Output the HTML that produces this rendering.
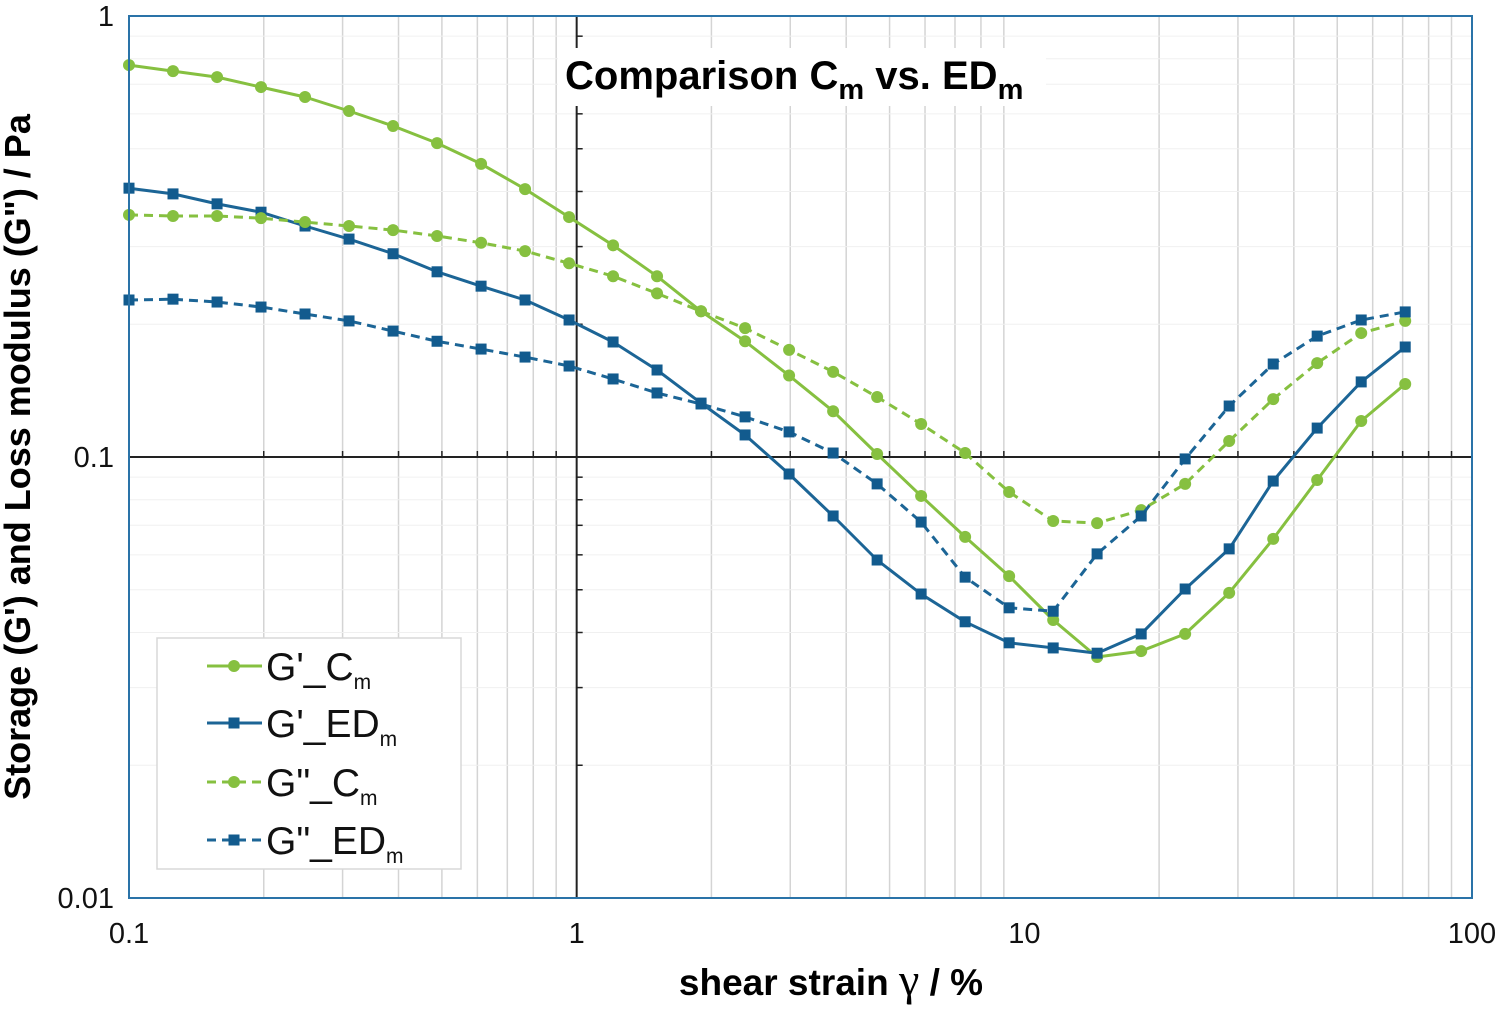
<!DOCTYPE html>
<html><head><meta charset="utf-8">
<style>
html,body{margin:0;padding:0;background:#fff;}
svg{display:block;font-family:"Liberation Sans",Arial,sans-serif;}
</style></head>
<body>
<svg id="chart" width="1500" height="1017" viewBox="0 0 1500 1017" xmlns="http://www.w3.org/2000/svg">
<g id="grid"></g>
<g id="axes"></g>
<g id="series"></g>
<rect x="129" y="16" width="1343" height="882" fill="none" stroke="#2a73a8" stroke-width="2"/>
<rect x="558" y="48" width="488" height="58" fill="#fff"/>
<text x="565" y="89" font-size="40" font-weight="bold" fill="#000">Comparison C<tspan font-size="29" dy="10">m</tspan><tspan dy="-10"> vs. ED</tspan><tspan font-size="29" dy="10">m</tspan></text>
<g id="legend">
<rect x="157" y="638" width="304" height="231" fill="#fff" stroke="#d8d8d8" stroke-width="1.5"/>
</g>
<text x="831" y="995" font-size="37" font-weight="bold" text-anchor="middle">shear strain <tspan font-family="Liberation Serif,serif" font-weight="normal" font-size="46">γ</tspan> / %</text>
<text transform="translate(30,457) rotate(-90)" font-size="36" font-weight="bold" text-anchor="middle">Storage (G') and Loss modulus (G") / Pa</text>
</svg>
<script>
const strain=[0.1,0.1254,0.1573,0.1972,0.2473,0.3101,0.3889,0.4877,0.6116,0.7669,0.9617,1.206,1.512,1.896,2.378,2.982,3.740,4.690,5.881,7.375,9.248,11.60,14.54,18.24,22.87,28.68,35.97,45.10,56.56,70.93];
const gpCm=[0.774,0.750,0.727,0.690,0.655,0.609,0.563,0.515,0.462,0.405,0.350,0.302,0.257,0.214,0.183,0.153,0.127,0.1016,0.0816,0.0659,0.0537,0.0427,0.0352,0.0363,0.0397,0.0492,0.0652,0.0887,0.1207,0.1464];
const gpEDm=[0.407,0.395,0.375,0.359,0.334,0.312,0.289,0.263,0.244,0.227,0.2045,0.1823,0.1575,0.1325,0.1122,0.0915,0.0735,0.0584,0.0489,0.0423,0.0379,0.0369,0.0359,0.0397,0.0502,0.0619,0.0882,0.1163,0.148,0.1776];
const gppCm=[0.354,0.352,0.352,0.348,0.341,0.334,0.327,0.317,0.306,0.293,0.275,0.257,0.235,0.214,0.196,0.175,0.156,0.1368,0.1188,0.1021,0.0833,0.0716,0.0708,0.0758,0.0869,0.1087,0.1353,0.1633,0.191,0.2035];
const gppEDm=[0.227,0.228,0.2246,0.2188,0.211,0.2035,0.193,0.183,0.1757,0.1685,0.1608,0.1503,0.1397,0.1319,0.1233,0.114,0.1021,0.0869,0.0712,0.0534,0.0455,0.0447,0.0603,0.0735,0.099,0.1305,0.1625,0.188,0.2045,0.2133];
const xTicks=[0.1,1,10,100];
const xTickLabels=["0.1","1","10","100"];
const yTicks=[0.01,0.1,1];
const yTickLabels=["0.01","0.1","1"];

const NS="http://www.w3.org/2000/svg";
const X0=129,X1=1472,Y0=898,Y1=16;
function xs(v){return X0+(Math.log10(v)+1)/3*(X1-X0);}
function ys(v){return Y0-(Math.log10(v)+2)/2*(Y0-Y1);}
function mk(tag,at,parent){const e=document.createElementNS(NS,tag);for(const k in at)e.setAttribute(k,at[k]);parent.appendChild(e);return e;}
const grid=document.getElementById('grid'),axes=document.getElementById('axes'),ser=document.getElementById('series'),leg=document.getElementById('legend');
for(let d=-1;d<2;d++)for(let m=2;m<=9;m++){const v=m*Math.pow(10,d);const l=mk('line',{x1:xs(v),x2:xs(v),y1:Y1,y2:Y0,stroke:'#d4d4d4','stroke-width':1.5},grid);

}
for(let d=-2;d<0;d++)for(let m=2;m<=9;m++){const v=m*Math.pow(10,d);const l=mk('line',{x1:X0,x2:X1,y1:ys(v),y2:ys(v),stroke:'#f0f0f0','stroke-width':1},grid);

}
const va=mk('line',{x1:xs(1),x2:xs(1),y1:Y1,y2:Y0,stroke:'#222','stroke-width':2},axes);


const ha=mk('line',{x1:X0,x2:X1,y1:ys(0.1),y2:ys(0.1),stroke:'#222','stroke-width':2},axes);


for(let d=-2;d<0;d++)for(let m=2;m<=9;m++){const v=m*Math.pow(10,d);const t=mk('line',{x1:xs(1),x2:xs(1)+6,y1:ys(v),y2:ys(v),stroke:'#222','stroke-width':1.5},axes);

}
for(let d=-1;d<2;d++)for(let m=2;m<=9;m++){const v=m*Math.pow(10,d);const t=mk('line',{x1:xs(v),x2:xs(v),y1:ys(0.1),y2:ys(0.1)-6,stroke:'#222','stroke-width':1.5},axes);

}
xTicks.forEach((v,i)=>{const t=mk('text',{x:xs(v),y:943,'font-size':29,'text-anchor':'middle',fill:'#111'},axes);t.textContent=xTickLabels[i];

});
yTicks.forEach((v,i)=>{const t=mk('text',{x:114,y:ys(v)+10,'font-size':29,'text-anchor':'end',fill:'#111'},axes);t.textContent=yTickLabels[i];

});
const GREEN='#86c040',BLUE='#1c6596';
const defs=[
 {n:'gp-cm',d:gpCm,c:GREEN,dash:null,sq:false,lab:"G'_C",ly:666},
 {n:'gp-edm',d:gpEDm,c:BLUE,dash:null,sq:true,lab:"G'_ED",ly:723},
 {n:'gpp-cm',d:gppCm,c:GREEN,dash:'9,6',sq:false,lab:'G"_C',ly:782},
 {n:'gpp-edm',d:gppEDm,c:BLUE,dash:'9,6',sq:true,lab:'G"_ED',ly:840}];
function marker(x,y,s,parent,name){let e;if(s.sq){e=mk('rect',{x:x-5.5,y:y-5.5,width:11,height:11,fill:'#125b8e'},parent);}else{e=mk('circle',{cx:x,cy:y,r:6,fill:GREEN},parent);}

}
defs.forEach(s=>{const pts=strain.map((v,i)=>xs(v).toFixed(1)+','+ys(s.d[i]).toFixed(1)).join(' ');
 const at={points:pts,fill:'none',stroke:s.c,'stroke-width':3,'stroke-linejoin':'round'};if(s.dash)at['stroke-dasharray']=s.dash;
 const p=mk('polyline',at,ser);
 
 
 strain.forEach((v,i)=>marker(xs(v),ys(s.d[i]),s,ser,s.n+'-point'));
 const la={x1:207,x2:262,y1:s.ly,y2:s.ly,stroke:s.c,'stroke-width':3};if(s.dash)la['stroke-dasharray']='9,6';
 const ll=mk('line',la,leg);
 
 
 marker(234,s.ly,s,leg,'legend-'+s.n+'-marker');
 const t=mk('text',{x:266,y:s.ly+14,'font-size':39,fill:'#111'},leg);
 t.textContent=s.lab;
 const sub=mk('tspan',{'font-size':21,dy:9},t);sub.textContent='m';
 
 
});
</script>
</body></html>
